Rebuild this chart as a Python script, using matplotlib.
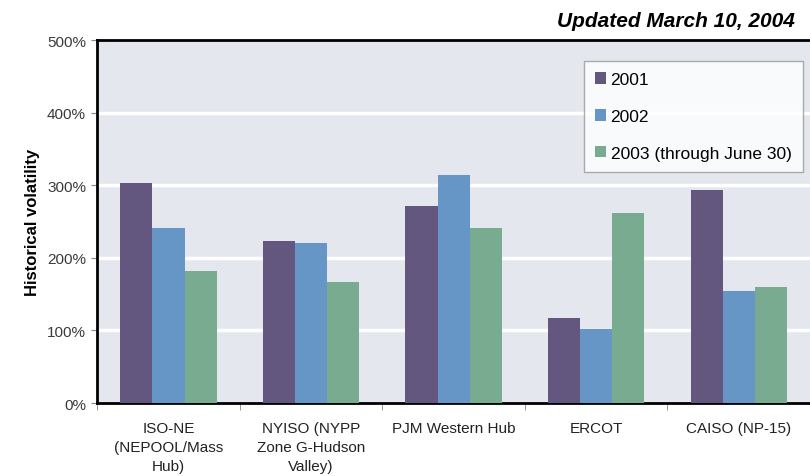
import matplotlib.pyplot as plt
import numpy as np

plt.rcParams['font.family'] = ['Liberation Sans', 'DejaVu Sans']

categories = ['ISO-NE\n(NEPOOL/Mass\nHub)', 'NYISO (NYPP\nZone G-Hudson\nValley)',
              'PJM Western Hub', 'ERCOT', 'CAISO (NP-15)']
years = ['2001', '2002', '2003 (through June 30)']
vol_2001 = [303, 223, 271, 117, 293]
vol_2002 = [241, 220, 314, 102, 154]
vol_2003 = [182, 167, 241, 262, 160]
colors = ['#635780', '#6596c6', '#79ab90']
yticks = [0, 100, 200, 300, 400, 500]

fig = plt.figure(figsize=(8.1, 4.77), dpi=100)
ax = fig.add_axes([0.12, 0.153, 0.88, 0.761])
ax.set_facecolor('#e4e7ee')

x = np.arange(len(categories))
w = 0.225
for i, (vals, lab) in enumerate(zip([vol_2001, vol_2002, vol_2003], years)):
    ax.bar(x + (i - 1) * w, vals, w, color=colors[i], label=lab, zorder=3)

ax.set_ylim(0, 500)
ax.set_xlim(-0.5, 4.486)
ax.set_yticks(yticks)
ax.set_yticklabels([f'{v}%' for v in yticks], fontsize=11, color='#3a3a3a')
for v in yticks[1:-1]:
    ax.axhline(v, color='white', lw=2.5, zorder=1)

ax.set_xticks(x)
ax.set_xticklabels(categories, fontsize=11, color='#222222', linespacing=1.45)
ax.tick_params(axis='x', which='major', length=0, pad=13)
ax.set_xticks(np.arange(-0.5, 5, 1.0), minor=True)
ax.tick_params(axis='x', which='minor', length=5, color='#888888', direction='out')
ax.tick_params(axis='y', length=4, color='#888888', pad=4)

for s in ['left', 'bottom', 'top']:
    ax.spines[s].set_linewidth(2)
    ax.spines[s].set_color('black')
ax.spines['right'].set_visible(False)

ax.set_ylabel('Historical volatility', fontsize=12, fontweight='bold', labelpad=5)

fig.text(0.981, 0.955, 'Updated March 10, 2004', ha='right', va='center',
         fontsize=15, fontweight='bold', fontstyle='italic')

leg = ax.legend(loc='upper right', bbox_to_anchor=(0.991, 0.870),
                bbox_transform=fig.transFigure, fontsize=12.5, frameon=True,
                fancybox=False, edgecolor='#999999', handlelength=0.65,
                handleheight=0.65, handletextpad=0.25, labelspacing=1.25,
                borderpad=0.65, borderaxespad=0)
leg.get_frame().set_linewidth(1)

fig.savefig('out.png', dpi=100, facecolor='white')
